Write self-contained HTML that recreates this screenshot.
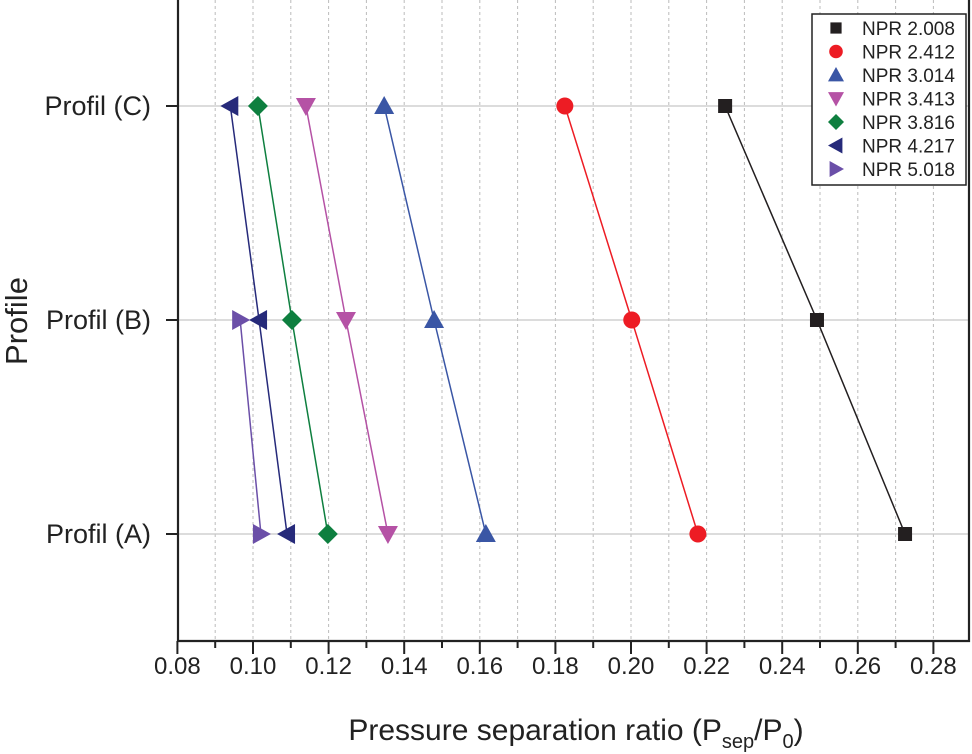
<!DOCTYPE html>
<html><head><meta charset="utf-8"><style>
body{margin:0;background:#fff}
svg{display:block;font-family:"Liberation Sans",Arial,sans-serif}
</style></head><body>
<svg id="chart" width="972" height="754">
<g id="grid"></g>
<g id="series"></g>
<g id="axes"></g>
<g id="legend"></g>
<text x="576" y="740" font-size="30" text-anchor="middle" fill="#222">Pressure separation ratio (P<tspan font-size="20" dy="8">sep</tspan><tspan dy="-8">/P</tspan><tspan font-size="20" dy="8">0</tspan><tspan dy="-8">)</tspan></text>
<text transform="translate(27,321) rotate(-90)" font-size="31" text-anchor="middle" fill="#222">Profile</text>
</svg>
<script>
const categories = ["Profil (A)", "Profil (B)", "Profil (C)"];
const seriesNames = ["NPR 2.008","NPR 2.412","NPR 3.014","NPR 3.413","NPR 3.816","NPR 4.217","NPR 5.018"];
const s2008 = [0.2725, 0.2492, 0.2249];
const s2412 = [0.2177, 0.2002, 0.1825];
const s3014 = [0.1616, 0.1479, 0.1347];
const s3413 = [0.1357, 0.1246, 0.1140];
const s3816 = [0.1198, 0.1103, 0.1013];
const s4217 = [0.1090, 0.1016, 0.0940];
const s5018 = [0.1021, 0.0966, null];
const xTicks = ["0.08","0.10","0.12","0.14","0.16","0.18","0.20","0.22","0.24","0.26","0.28"];

const NS="http://www.w3.org/2000/svg";
const L=178,R=969,T=0,B=641;
const x0=0.08, pxPer=3780;
function xs(v){return 177.4+(v-x0)*pxPer;}
function ys(i){return B-(i+0.5)*214;}
function mk(tag,attrs,parent){const e=document.createElementNS(NS,tag);for(const k in attrs)e.setAttribute(k,attrs[k]);parent.appendChild(e);return e;}
const grid=document.getElementById('grid'),axes=document.getElementById('axes'),ser=document.getElementById('series'),leg=document.getElementById('legend');

for(let k=1;k<=20;k++){const v=0.08+k*0.01;const x=xs(v);if(x>R-2)break;
 const g=mk('line',{x1:x,x2:x,y1:T,y2:B,stroke:'#bbb','stroke-width':1,'stroke-dasharray':'3,3'},grid);
 }
categories.forEach((c,i)=>{const y=ys(i);
 const g=mk('line',{x1:L,x2:R,y1:y,y2:y,stroke:'#c8c8c8','stroke-width':1.2},grid);
 
 const t=mk('line',{x1:166,x2:L,y1:y,y2:y,stroke:'#222','stroke-width':2},axes);
 
 const tx=mk('text',{x:151,y:y+9,'font-size':27,'text-anchor':'end',fill:'#222'},axes);tx.textContent=c;
 });
for(let k=0;k<=21;k++){const v=0.08+k*0.01;const x=xs(v);if(x>R)break;const major=k%2==0;
 const t=mk('line',{x1:x,x2:x,y1:B,y2:B+(major?13:7),stroke:'#222','stroke-width':2},axes);
 
 if(major){const tx=mk('text',{x:x,y:B+33,'font-size':24,'text-anchor':'middle',fill:'#222'},axes);tx.textContent=xTicks[k/2];
 }}
let a=mk('path',{d:`M${L} ${T}V${B}H${R}V${T}`,fill:'none',stroke:'#222','stroke-width':2.2},axes);


const data=[s2008,s2412,s3014,s3413,s3816,s4217,s5018];
const colors=['#231f20','#ed1c24','#3a56a5','#b552a5','#0e7f3f','#262a7a','#6b4fa8'];
const shapes=['sq','ci','tu','td','di','tl','tr'];
function marker(shape,cx,cy,col,p,s){s=s||10;let e;
 if(shape=='sq')e=mk('rect',{x:cx-s*0.7,y:cy-s*0.7,width:s*1.4,height:s*1.4,fill:col},p);
 else if(shape=='ci')e=mk('circle',{cx:cx,cy:cy,r:s*0.85,fill:col},p);
 else{let pts;
  if(shape=='tu')pts=[[0,-s],[s,s*0.8],[-s,s*0.8]];
  if(shape=='td')pts=[[0,s],[s,-s*0.8],[-s,-s*0.8]];
  if(shape=='di')pts=[[0,-s],[s,0],[0,s],[-s,0]];
  if(shape=='tl')pts=[[-s,0],[s*0.8,-s],[s*0.8,s]];
  if(shape=='tr')pts=[[s,0],[-s*0.8,-s],[-s*0.8,s]];
  e=mk('polygon',{points:pts.map(q=>(cx+q[0])+','+(cy+q[1])).join(' '),fill:col},p);}
 return e;}
data.forEach((arr,si)=>{const g=mk('g',{},ser);
 
 const pts=[];arr.forEach((v,i)=>{if(v!=null)pts.push([xs(v),ys(i)]);});
 const ln=mk('polyline',{points:pts.map(p=>p.join(',')).join(' '),fill:'none',stroke:colors[si],'stroke-width':1.5},g);
 
 pts.forEach(p=>{const m=marker(shapes[si],p[0],p[1],colors[si],g);
  });});

const lb=mk('rect',{x:812,y:14,width:154,height:171,fill:'#fff',stroke:'#222','stroke-width':1.5},leg);

seriesNames.forEach((n,i)=>{const y=28+i*23.5;const g=mk('g',{},leg);
 
 const m=marker(shapes[i],836,y,colors[i],g,8);
 const t=mk('text',{x:862,y:y+7,'font-size':19,fill:'#222'},g);t.textContent=n;
 });
</script>
</body></html>
